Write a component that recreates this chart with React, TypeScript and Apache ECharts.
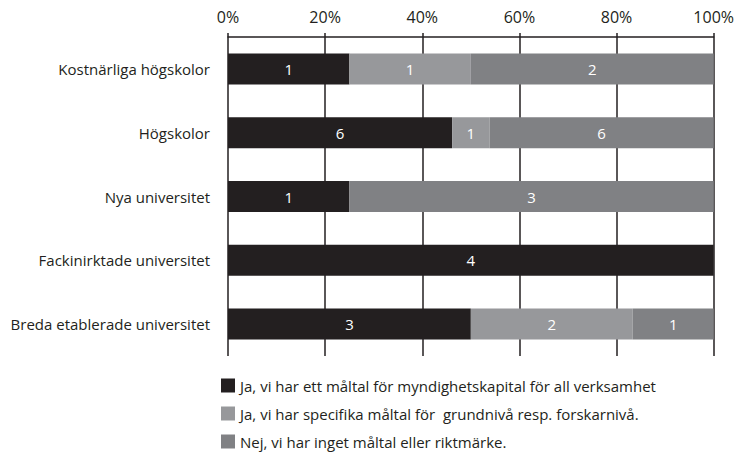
import React, { useEffect, useRef } from "react";
import * as echarts from "echarts";

const categories = [
  "Kostnärliga högskolor",
  "Högskolor",
  "Nya universitet",
  "Fackinirktade universitet",
  "Breda etablerade universitet",
];
const seriesNames = [
  "Ja, vi har ett måltal för myndighetskapital för all verksamhet",
  "Ja, vi har specifika måltal för  grundnivå resp. forskarnivå.",
  "Nej, vi har inget måltal eller riktmärke.",
];
const countsA = [1, 6, 1, 4, 3];
const countsB = [1, 1, 0, 0, 2];
const countsC = [2, 6, 3, 0, 1];
const colors = ["#231f20", "#97989b", "#808184"];
const tickLabels = [0, 20, 40, 60, 80, 100];

const FONT = "'Open Sans', sans-serif";

export default function App() {
  const ref = useRef<HTMLDivElement>(null);
  useEffect(() => {
    if (!ref.current) return;
    const chart = echarts.init(ref.current, undefined, { renderer: "svg" });
    const all = [countsA, countsB, countsC];
    const totals = categories.map((_, i) => all.reduce((s, a) => s + a[i], 0));
    const series = all.map((counts, si) => ({
      name: seriesNames[si],
      type: "bar",
      stack: "total",
      barWidth: 31,
      itemStyle: { color: colors[si] },
      label: {
        show: true,
        position: "inside",
        color: "#ffffff",
        fontFamily: FONT,
        fontSize: 15,
        formatter: (p: any) => (p.data.count ? String(p.data.count) : ""),
      },
      data: counts.map((c, i) => ({ value: (c / totals[i]) * 100, count: c })),
    }));
    chart.setOption({
      animation: false,
      textStyle: { fontFamily: FONT },
      grid: { left: 228, right: 21, top: 37, bottom: 110, containLabel: false },
      xAxis: {
        type: "value",
        position: "top",
        min: tickLabels[0],
        max: tickLabels[tickLabels.length - 1],
        interval: 20,
        axisLine: { show: true, lineStyle: { color: "#231f20", width: 1.5 } },
        axisTick: { show: true, length: 4, lineStyle: { color: "#231f20", width: 1.5 } },
        splitLine: { show: true, lineStyle: { color: "#231f20", width: 1.5 } },
        axisLabel: {
          formatter: "{value}%",
          color: "#231f20",
          fontSize: 16,
          fontFamily: FONT,
          margin: 12,
        },
      },
      yAxis: {
        type: "category",
        inverse: true,
        data: categories,
        axisLine: { show: false },
        axisTick: { show: false },
        axisLabel: { color: "#231f20", fontSize: 15, fontFamily: FONT, margin: 18 },
      },
      legend: {
        orient: "vertical",
        left: 216,
        top: 373,
        itemGap: 13,
        itemWidth: 14,
        itemHeight: 14,
        icon: "rect",
        data: seriesNames,
        textStyle: { color: "#231f20", fontSize: 15, lineHeight: 14, fontFamily: FONT },
      },
      series,
    });
    return () => chart.dispose();
  }, []);
  return (
    <div
      ref={ref}
      style={{ position: "fixed", left: 0, top: 0, width: 737, height: 466, background: "#fff" }}
    />
  );
}
